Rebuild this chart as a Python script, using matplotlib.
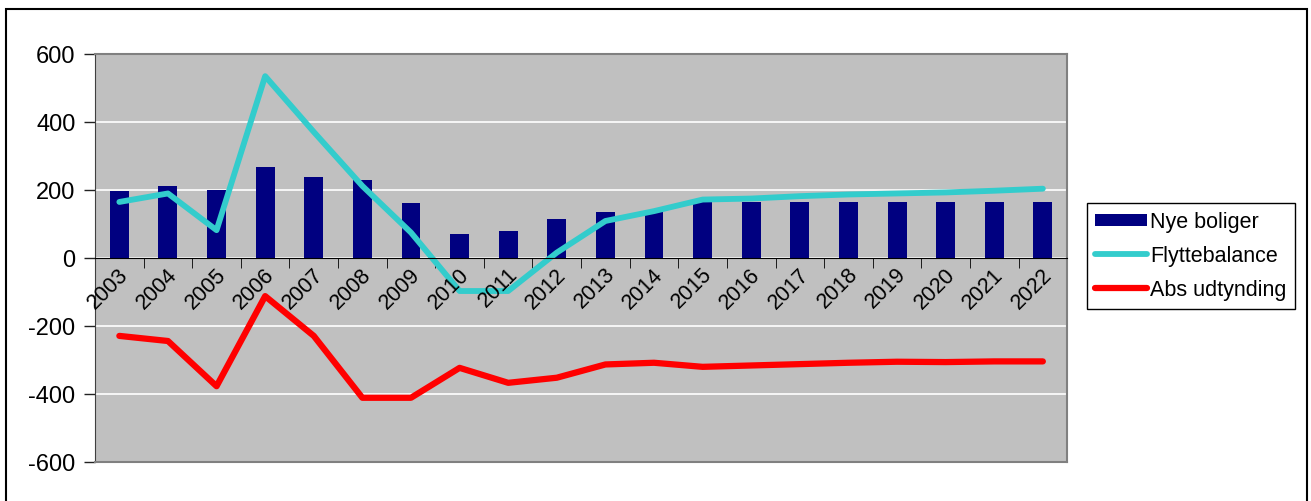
import matplotlib
matplotlib.use("Agg")
import matplotlib.pyplot as plt
from matplotlib.patches import Rectangle
import numpy as np

plt.rcParams['font.family'] = ['Liberation Sans', 'DejaVu Sans']
plt.rcParams['axes.unicode_minus'] = False

# data
years = [str(y) for y in range(2003, 2023)]
nye_boliger = [196, 210, 199, 266, 236, 229, 160, 70, 80, 114,
               133, 140, 164, 164, 164, 164, 164, 164, 164, 164]
flyttebalance = [164, 189, 81, 534, 370, 211, 74, -98, -98, 15,
                 108, 137, 171, 174, 181, 186, 189, 192, 197, 203]
abs_udtynding = [-230, -245, -378, -113, -230, -412, -412, -324, -368, -353,
                 -314, -309, -321, -317, -313, -309, -306, -307, -305, -305]

fig = plt.figure(figsize=(13.11, 5.02), dpi=100)
ax = fig.add_axes([0.0725, 0.0783, 0.814 - 0.0725, 0.891 - 0.0783])
ax.set_facecolor('#c0c0c0')

x = np.arange(len(years))
b = ax.bar(x, nye_boliger, width=0.39, color='#000080', label='Nye boliger', zorder=3)
l1, = ax.plot(x, flyttebalance, color='#33cccc', lw=4.2, label='Flyttebalance',
              zorder=4, solid_capstyle='round')
l2, = ax.plot(x, abs_udtynding, color='#ff0000', lw=4.5, label='Abs udtynding',
              zorder=4, solid_capstyle='round')

ax.set_xlim(-0.5, len(years) - 0.5)
ax.set_ylim(-600, 600)
ax.set_yticks(range(-600, 601, 200))
ax.yaxis.grid(True, color='white', lw=1.2, zorder=1)
ax.tick_params(axis='y', labelsize=17, length=8, width=1, pad=6, colors='#222222')
ax.tick_params(axis='y', labelcolor='black')

# x axis drawn at y=0 with ticks between categories
ax.spines['bottom'].set_position(('data', 0))
ax.spines['bottom'].set_color('black')
ax.spines['bottom'].set_zorder(5)
ax.spines['left'].set_color('#404040')
ax.spines['top'].set_color('#808080')
ax.spines['right'].set_color('#808080')
for s in ['top', 'right']:
    ax.spines[s].set_linewidth(1.5)
ax.axhline(-600, color='#808080', lw=1.5, clip_on=False, zorder=5)
ax.set_xticks(x)
ax.set_xticklabels([])
ax.set_xticks(np.arange(0.5, len(years) - 0.5, 1), minor=True)
ax.tick_params(axis='x', which='major', length=0)
ax.tick_params(axis='x', which='minor', length=7, direction='out', color='black')
for i, lab in enumerate(years):
    ax.annotate(lab, xy=(i, 0), xytext=(-1, -4), textcoords='offset points',
                rotation=45, ha='right', va='top', rotation_mode='anchor',
                fontsize=15.5, zorder=6)

fig.legend([b, l1, l2], ['Nye boliger', 'Flyttebalance', 'Abs udtynding'],
           loc='upper left', bbox_to_anchor=(0.829, 0.594), fontsize=15.5,
           frameon=True, fancybox=False, edgecolor='black', framealpha=1,
           handlelength=2.4, handleheight=0.5, handletextpad=0.15, borderpad=0.4,
           labelspacing=0.6, borderaxespad=0)

# outer chart border
fig.patches.append(Rectangle((6 / 1311, -0.05), (1307 - 6) / 1311, 1.05 - 10 / 502,
                             transform=fig.transFigure, fill=False,
                             edgecolor='black', lw=1.5, figure=fig))

fig.savefig('out.png', dpi=100)
